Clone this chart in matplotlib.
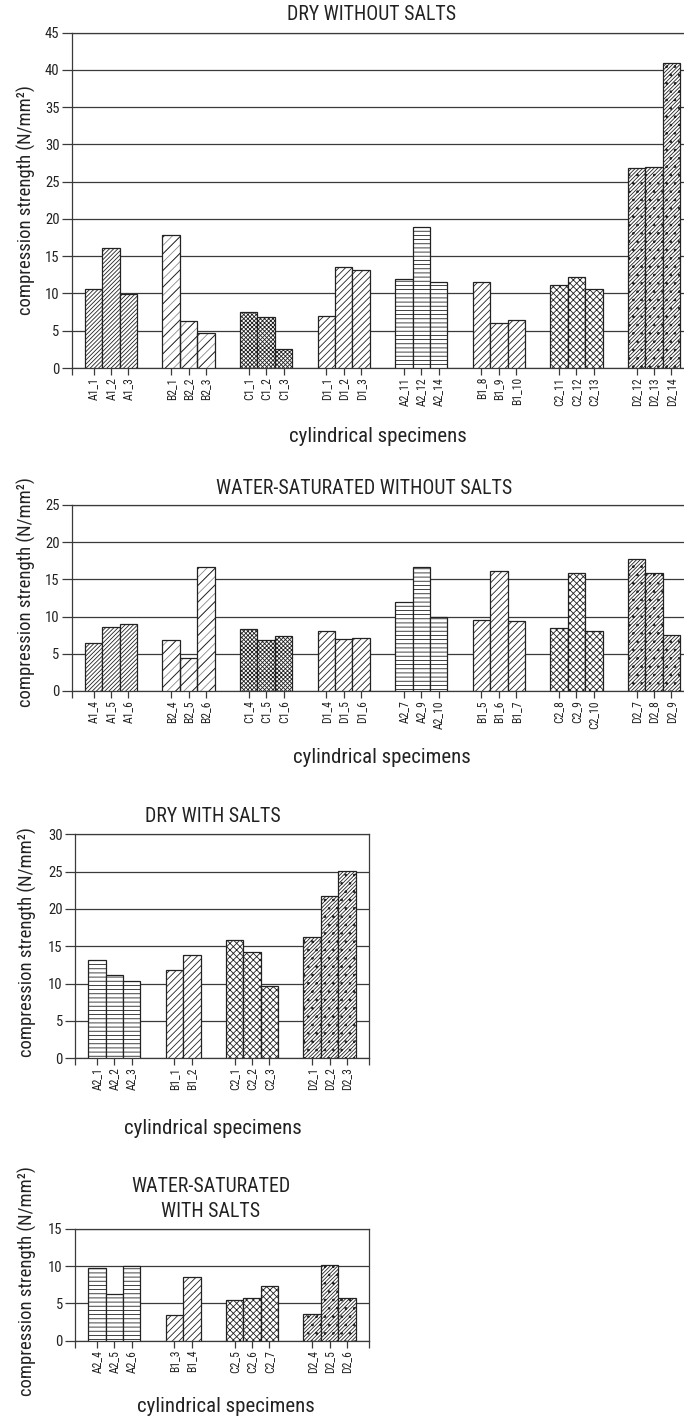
import matplotlib
matplotlib.use("Agg")
import matplotlib.pyplot as plt
import numpy as np

plt.rcParams['font.family'] = ['Roboto Condensed', 'Liberation Sans', 'DejaVu Sans']
plt.rcParams['hatch.linewidth'] = 0.6
plt.rcParams['hatch.color'] = '#222222'

# ---------------- data ----------------
titles = ["DRY WITHOUT SALTS", "WATER-SATURATED WITHOUT SALTS",
          "DRY WITH SALTS", "WATER-SATURATED\nWITH SALTS"]

p1_groups = [["A1_1", "A1_2", "A1_3"], ["B2_1", "B2_2", "B2_3"], ["C1_1", "C1_2", "C1_3"],
             ["D1_1", "D1_2", "D1_3"], ["A2_11", "A2_12", "A2_14"], ["B1_8", "B1_9", "B1_10"],
             ["C2_11", "C2_12", "C2_13"], ["D2_12", "D2_13", "D2_14"]]
p1_values = [[10.6, 16.1, 9.9], [17.9, 6.3, 4.7], [7.5, 6.8, 2.6], [7.0, 13.5, 13.1],
             [11.9, 18.9, 11.6], [11.6, 6.1, 6.5], [11.1, 12.2, 10.6], [26.9, 27.0, 41.0]]

p2_groups = [["A1_4", "A1_5", "A1_6"], ["B2_4", "B2_5", "B2_6"], ["C1_4", "C1_5", "C1_6"],
             ["D1_4", "D1_5", "D1_6"], ["A2_7", "A2_9", "A2_10"], ["B1_5", "B1_6", "B1_7"],
             ["C2_8", "C2_9", "C2_10"], ["D2_7", "D2_8", "D2_9"]]
p2_values = [[6.4, 8.6, 9.0], [6.9, 4.4, 16.6], [8.4, 6.8, 7.4], [8.1, 7.0, 7.1],
             [11.9, 16.7, 9.9], [9.6, 16.1, 9.4], [8.5, 15.9, 8.0], [17.7, 15.8, 7.5]]

p3_groups = [["A2_1", "A2_2", "A2_3"], ["B1_1", "B1_2"], ["C2_1", "C2_2", "C2_3"],
             ["D2_1", "D2_2", "D2_3"]]
p3_values = [[13.2, 11.1, 10.3], [11.8, 13.8], [15.8, 14.2, 9.7], [16.2, 21.7, 25.1]]

p4_groups = [["A2_4", "A2_5", "A2_6"], ["B1_3", "B1_4"], ["C2_5", "C2_6", "C2_7"],
             ["D2_4", "D2_5", "D2_6"]]
p4_values = [[9.7, 6.3, 10.0], [3.5, 8.5], [5.4, 5.8, 7.3], [3.6, 10.2, 5.7]]

y_max = [45, 25, 30, 15]

# ---------------- style ----------------
# (under-hatch, under-hatch colour, main hatch)
hatches = {"A1": (None, None, "////////"),
           "B2": ("////", "#8c8c8c", "//"),
           "C1": (None, None, "xxxxxxxx"),
           "D1": (None, None, "/////"),
           "A2": (None, None, "----"),
           "B1": (None, None, "/////"),
           "C2": (None, None, "xxxxx"),
           "D2": (None, None, "/////////..")}

W_PX = 17.43      # bar width in pixels
GAP = 1.45        # gap between groups (bar units)
MARGIN = 1.24     # space between axis and first/last bar centre
FIG_W, FIG_H = 684, 1418
EDGE = '#222222'
GRID = '#3a3a3a'
TXT = '#222222'

fig = plt.figure(figsize=(FIG_W / 100, FIG_H / 100), dpi=100)


def fx(px):
    return px / FIG_W


def fy(py):
    return 1 - py / FIG_H


def panel(groups, values, ymax, left, top, bottom, title, title_xy,
          xlabel_xy, ylabel_xy):
    pos, labels, vals, hs = [], [], [], []
    p = 0.0
    for g, v in zip(groups, values):
        for lab, val in zip(g, v):
            pos.append(p)
            labels.append(lab)
            vals.append(val)
            hs.append(hatches[lab[:2]])
            p += 1
        p += GAP
    pos = np.array(pos)
    x0, x1 = pos[0] - MARGIN, pos[-1] + MARGIN
    width_px = (x1 - x0) * W_PX
    ax = fig.add_axes([fx(left), fy(bottom), width_px / FIG_W, (bottom - top) / FIG_H])
    ax.set_axisbelow(True)
    ax.set_xlim(x0, x1)
    ax.set_ylim(0, ymax)
    for xx, vv, (uh, uc, hh) in zip(pos, vals, hs):
        if uh is not None:
            ax.bar(xx, vv, width=1.0, facecolor='white', edgecolor=uc,
                   linewidth=0, hatch=uh, zorder=3)
            ax.bar(xx, vv, width=1.0, facecolor='none', edgecolor=EDGE,
                   linewidth=0.9, hatch=hh, zorder=3.1)
        else:
            ax.bar(xx, vv, width=1.0, facecolor='white', edgecolor=EDGE,
                   linewidth=0.9, hatch=hh, zorder=3)
    ax.set_yticks(np.arange(0, ymax + 0.1, 5))
    ax.yaxis.grid(True, color=GRID, linewidth=0.9)
    ax.set_xticks(pos)
    ax.set_xticklabels(labels, rotation=90, fontsize=8.4, color=TXT)
    ax.set_xticks([x0, x1], minor=True)
    ax.tick_params(axis='x', which='both', length=5, width=0.9, color=GRID, pad=1.5)
    ax.tick_params(axis='y', length=7, width=0.9, color=GRID, pad=2,
                   labelsize=10.5, labelcolor=TXT)
    for s in ax.spines.values():
        s.set_color(GRID)
        s.set_linewidth(0.9)
    fig.text(fx(title_xy[0]), fy(title_xy[1]), title, ha='center', va='center',
             fontsize=14.3, color=TXT, linespacing=1.4)
    fig.text(fx(xlabel_xy[0]), fy(xlabel_xy[1]), "cylindrical specimens",
             ha='center', va='center', fontsize=15, color=TXT)
    fig.text(fx(ylabel_xy[0]), fy(ylabel_xy[1]), "compression strength (N/mm²)",
             ha='center', va='center', rotation=90, fontsize=13.4, color=TXT)
    return ax


panel(p1_groups, p1_values, y_max[0], 72, 32.7, 368, titles[0], (372, 15),
      (378, 436), (26, 200))
panel(p2_groups, p2_values, y_max[1], 72, 505, 691, titles[1], (364, 488),
      (382, 758), (26, 592))
panel(p3_groups, p3_values, y_max[2], 75.3, 834.3, 1058.3, titles[2], (213, 817),
      (213, 1128), (27, 942))
panel(p4_groups, p4_values, y_max[3], 75.3, 1229, 1340.7, titles[3], (211, 1199),
      (226, 1406), (27, 1281))

fig.savefig("out.png", dpi=100)
